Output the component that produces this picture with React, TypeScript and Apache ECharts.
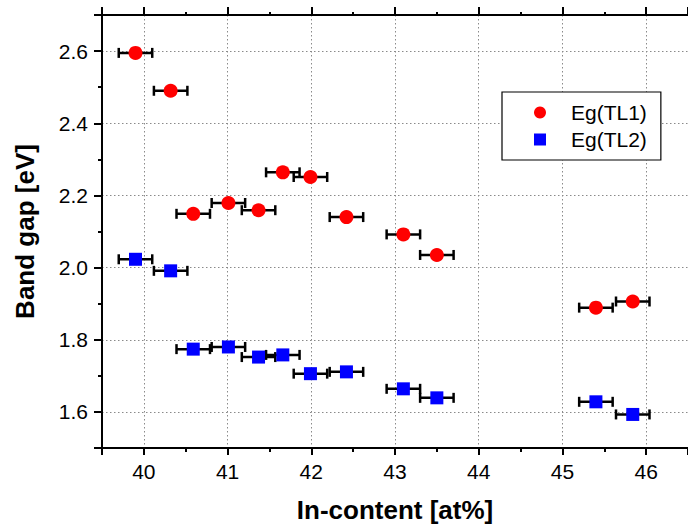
import React, { useEffect, useRef } from "react";
import * as echarts from "echarts";

const inContent = [39.9, 40.32, 40.59, 41.01, 41.37, 41.66, 41.99, 42.42, 43.1, 43.5, 45.4, 45.84];
const egTL1 = [2.595, 2.49, 2.149, 2.179, 2.159, 2.264, 2.251, 2.14, 2.092, 2.035, 1.889, 1.906];
const egTL2 = [2.023, 1.991, 1.774, 1.78, 1.752, 1.758, 1.706, 1.711, 1.664, 1.639, 1.628, 1.593];
const xErr = [0.2, 0.2, 0.2, 0.2, 0.2, 0.2, 0.2, 0.2, 0.2, 0.2, 0.2, 0.2];

const seriesNames = ["Eg(TL1)", "Eg(TL2)"];
const xName = "In-content [at%]";
const yName = "Band gap [eV]";

const FONT = "'Liberation Sans', Arial, sans-serif";

export default function App() {
  const ref = useRef<HTMLDivElement>(null);
  useEffect(() => {
    if (!ref.current) return;
    const chart = echarts.init(ref.current, null, { renderer: "svg" });
    const pts1 = inContent.map((x, i) => [x, egTL1[i], xErr[i]]);
    const pts2 = inContent.map((x, i) => [x, egTL2[i], xErr[i]]);
    const errItem = (params: any, api: any) => {
      const x = api.value(0);
      const y = api.value(1);
      const e = api.value(2);
      const l = api.coord([x - e, y]);
      const r = api.coord([x + e, y]);
      const h = 5;
      const style = { stroke: "#000", lineWidth: 2.5 };
      return {
        type: "group",
        children: [
          { type: "line", shape: { x1: l[0], y1: l[1], x2: r[0], y2: r[1] }, style },
          { type: "line", shape: { x1: l[0], y1: l[1] - h, x2: l[0], y2: l[1] + h }, style },
          { type: "line", shape: { x1: r[0], y1: r[1] - h, x2: r[0], y2: r[1] + h }, style },
        ],
      };
    };
    const axisLine = { show: true, onZero: false, lineStyle: { color: "#000", width: 2 } };
    const tick = { show: true, inside: false, length: 7, lineStyle: { color: "#000", width: 2 } };
    const minor = { show: true, splitNumber: 2, length: 4, lineStyle: { color: "#000", width: 2 } };
    const split = { show: true, lineStyle: { color: "#8a8a8a", width: 1, type: [1.5, 2.5] } };
    chart.setOption({
      animation: false,
      backgroundColor: "#fff",
      grid: { left: 102, right: -3, top: 15, bottom: 82, containLabel: false },
      xAxis: [
        {
          type: "value",
          min: 39.5,
          max: 46.5,
          position: "bottom",
          name: xName,
          nameLocation: "middle",
          nameGap: 49,
          nameTextStyle: { fontFamily: FONT, fontSize: 26, fontWeight: "bold", color: "#000" },
          axisLine,
          axisTick: tick,
          minorTick: minor,
          splitLine: split,
          axisLabel: {
            show: true,
            margin: 13,
            fontFamily: FONT,
            fontSize: 21,
            color: "#000",
            showMinLabel: false,
            showMaxLabel: false,
          },
        },
        {
          type: "value",
          min: 39.5,
          max: 46.5,
          position: "top",
          axisLine,
          axisTick: { ...tick, length: 8 },
          minorTick: { ...minor, length: 3 },
          splitLine: { show: false },
          axisLabel: { show: false },
        },
      ],
      yAxis: {
        type: "value",
        min: 1.5,
        max: 2.7,
        name: yName,
        nameLocation: "middle",
        nameGap: 64,
        nameTextStyle: { fontFamily: FONT, fontSize: 26, fontWeight: "bold", color: "#000" },
        axisLine,
        axisTick: { ...tick, length: 8 },
        minorTick: minor,
        splitLine: split,
        axisLabel: {
          margin: 14,
          fontFamily: FONT,
          fontSize: 21,
          color: "#000",
          showMinLabel: false,
          showMaxLabel: false,
          formatter: (v: number) => v.toFixed(1),
        },
      },
      legend: {
        orient: "vertical",
        left: 502,
        top: 92,
        backgroundColor: "#fff",
        borderColor: "#000",
        borderWidth: 1.2,
        padding: [10, 14, 10, 32],
        itemGap: 6,
        itemWidth: 12,
        itemHeight: 12,
        textStyle: { fontFamily: FONT, fontSize: 21, color: "#000", padding: [0, 0, 0, 20] },
        data: [
          { name: seriesNames[0], icon: "circle", itemStyle: { color: "#ff0000" } },
          { name: seriesNames[1], icon: "rect", itemStyle: { color: "#0000ff" } },
        ],
      },
      series: [
        {
          type: "custom",
          name: "err1",
          renderItem: errItem,
          data: pts1,
          encode: { x: 0, y: 1 },
          z: 2,
          silent: true,
        },
        {
          type: "custom",
          name: "err2",
          renderItem: errItem,
          data: pts2,
          encode: { x: 0, y: 1 },
          z: 2,
          silent: true,
        },
        {
          type: "scatter",
          name: seriesNames[0],
          data: pts1.map((p) => [p[0], p[1]]),
          symbol: "circle",
          symbolSize: 14,
          itemStyle: { color: "#ff0000", opacity: 1 },
          z: 3,
        },
        {
          type: "scatter",
          name: seriesNames[1],
          data: pts2.map((p) => [p[0], p[1]]),
          symbol: "rect",
          symbolSize: 13,
          itemStyle: { color: "#0000ff", opacity: 1 },
          z: 3,
        },
      ],
    });
    return () => chart.dispose();
  }, []);
  return (
    <div
      ref={ref}
      style={{ position: "fixed", left: 0, top: 0, width: 688, height: 530, background: "#fff" }}
    />
  );
}
